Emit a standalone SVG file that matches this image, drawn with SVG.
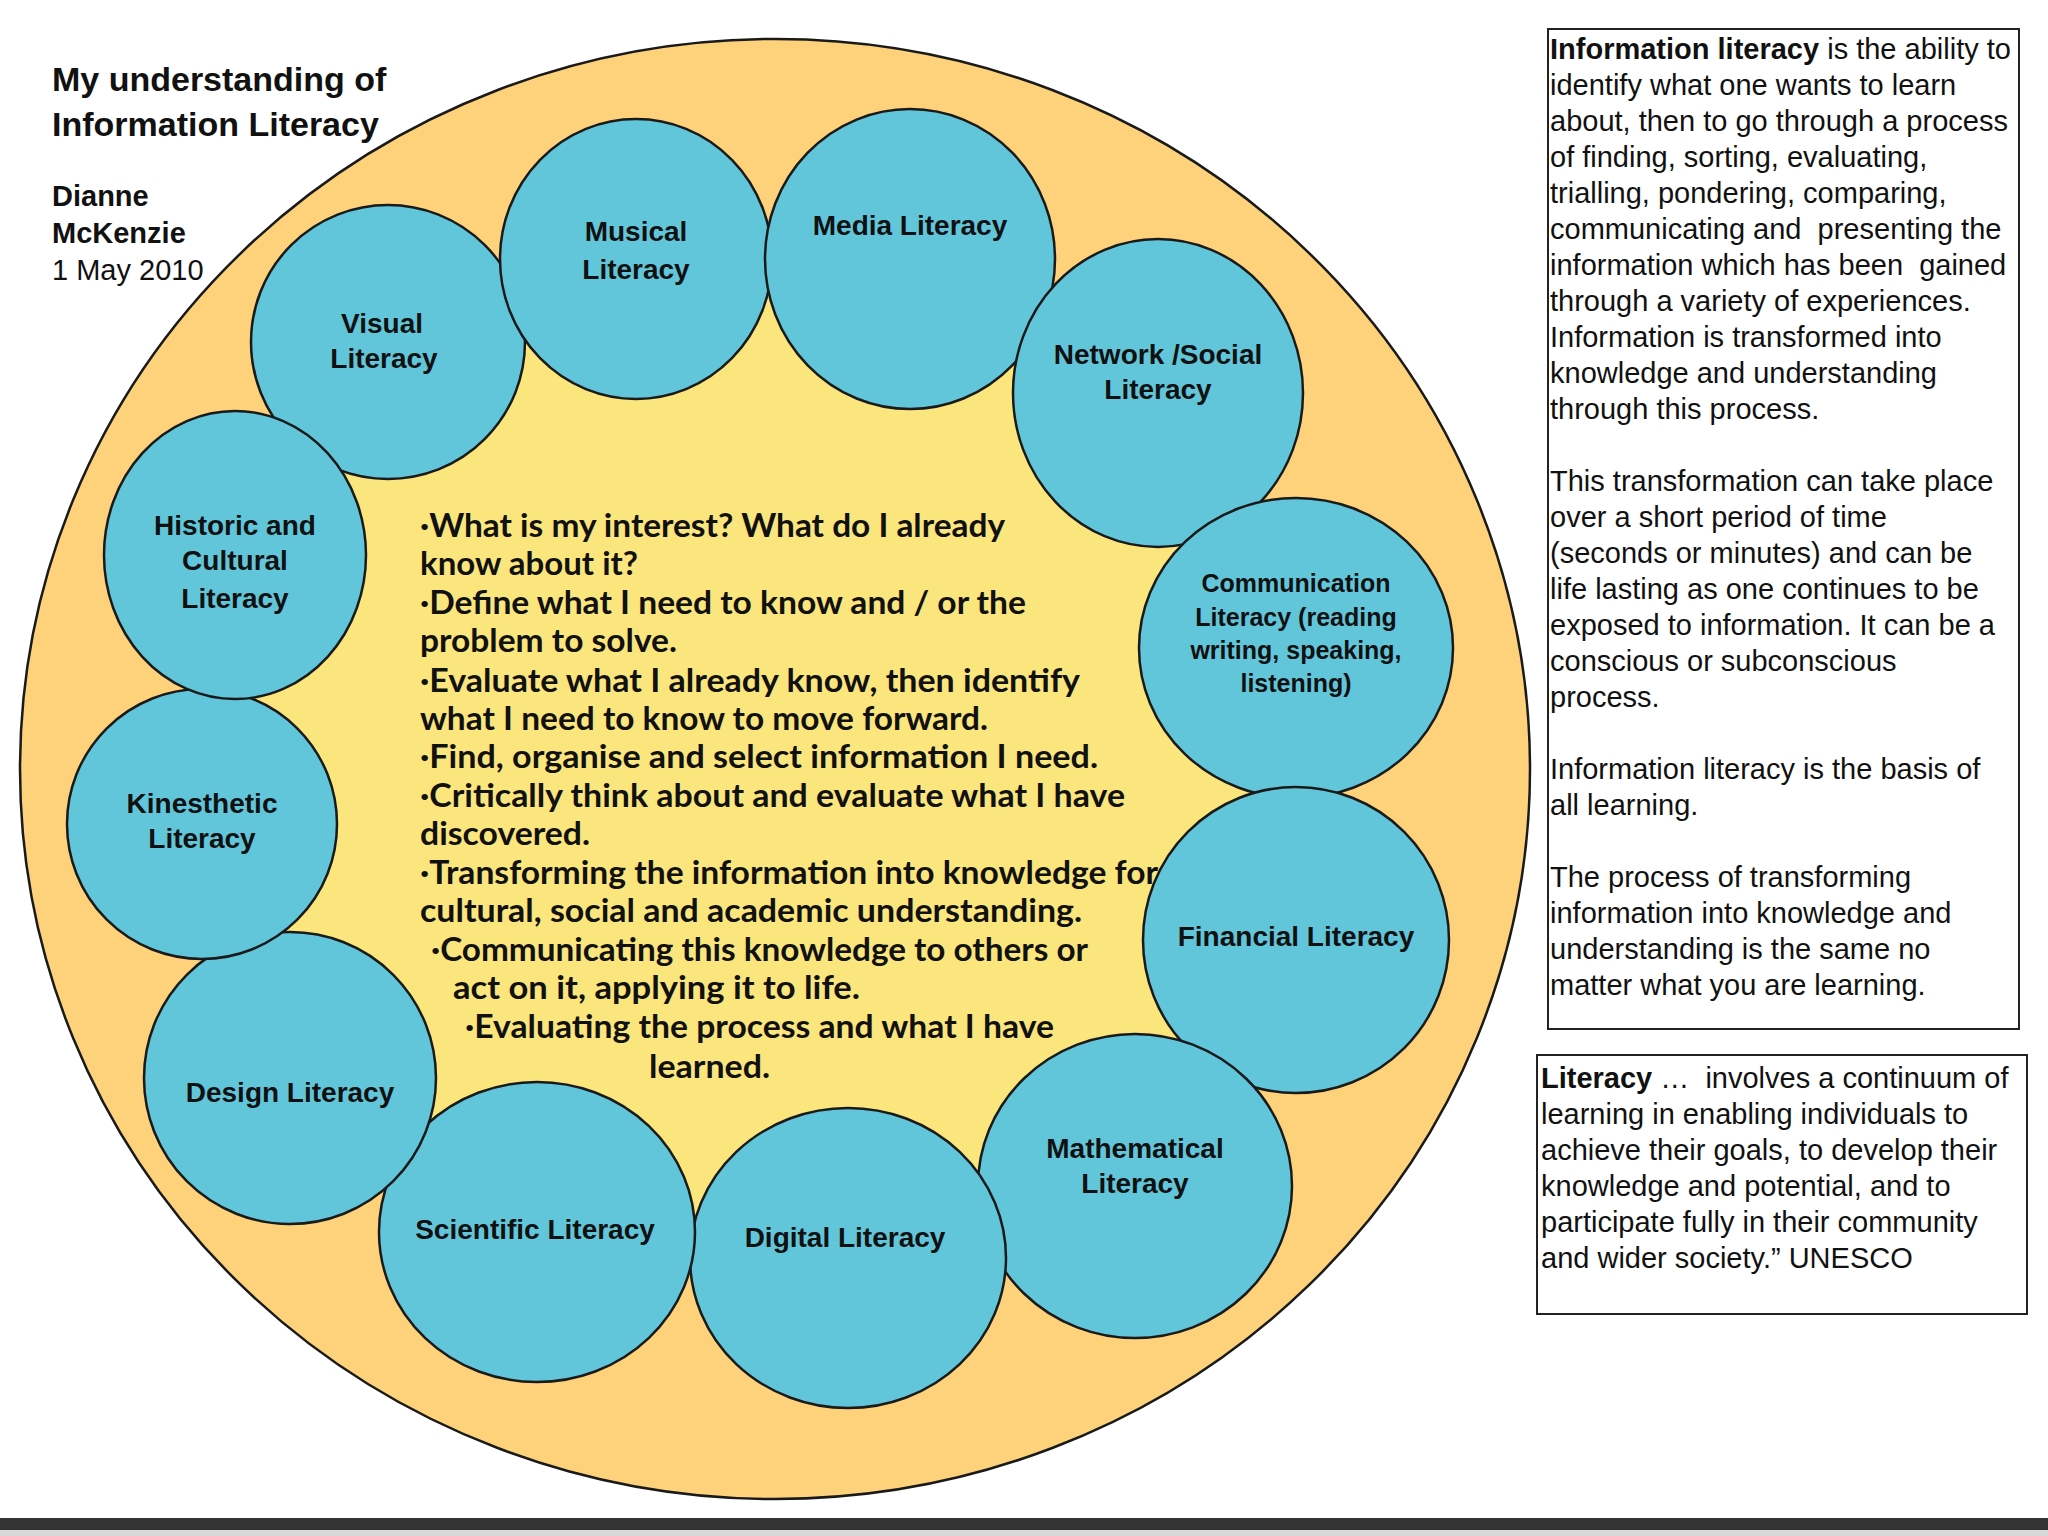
<svg xmlns="http://www.w3.org/2000/svg" width="2048" height="1536" viewBox="0 0 2048 1536">
<style>
.node{fill:#62C6DB;stroke:#1a1a1a;stroke-width:2.5}
.lbl{font-family:"Liberation Sans",Arial,sans-serif;font-weight:bold;font-size:28px;fill:#111;text-anchor:middle}
.lbls{font-family:"Liberation Sans",Arial,sans-serif;font-weight:bold;font-size:25px;fill:#111;text-anchor:middle}
.ctr{font-family:Lato,"Open Sans",sans-serif;font-weight:bold;font-size:32px;fill:#111}
.box{fill:#fff;stroke:#222;stroke-width:2}
.bt{font-family:"Liberation Sans",Arial,sans-serif;font-size:29px;fill:#111}
.hd{font-family:"Liberation Sans",Arial,sans-serif;font-weight:bold;fill:#111}
</style>
<rect width="2048" height="1536" fill="#fff"/>
<rect x="0" y="1518" width="2048" height="12" fill="#333"/>
<rect x="0" y="1530" width="2048" height="6" fill="#d8d8d8"/>

<g id="title">
<text class="hd" x="52" y="91" font-size="34">My understanding of</text>
<text class="hd" x="52" y="136" font-size="34">Information Literacy</text>
<text class="hd" x="52" y="206" font-size="29">Dianne</text>
<text class="hd" x="52" y="243" font-size="29">McKenzie</text>
<text class="bt" x="52" y="280">1 May 2010</text>
</g>

<g id="outer">
<ellipse cx="775" cy="769" rx="755" ry="730" fill="#FDD27A" stroke="#1a1a1a" stroke-width="2.5"/>
</g>

<g id="connectors">
<polygon points="388,342 636,259 910,259 1158,393 1296,648 1296,940 1135,1186 848,1258 537,1232 290,1078 202,824 235,555" fill="#FBE57D" stroke="#5a4a30" stroke-width="1.5"/>
</g>

<g id="center">
<text class="ctr" x="420" y="537" textLength="585" lengthAdjust="spacingAndGlyphs">·What is my interest? What do I already</text>
<text class="ctr" x="420" y="575" textLength="218" lengthAdjust="spacingAndGlyphs">know about it?</text>
<text class="ctr" x="420" y="614" textLength="606" lengthAdjust="spacingAndGlyphs">·Define what I need to know and / or the</text>
<text class="ctr" x="420" y="652" textLength="257" lengthAdjust="spacingAndGlyphs">problem to solve.</text>
<text class="ctr" x="420" y="692" textLength="660" lengthAdjust="spacingAndGlyphs">·Evaluate what I already know, then identify</text>
<text class="ctr" x="420" y="730" textLength="568" lengthAdjust="spacingAndGlyphs">what I need to know to move forward.</text>
<text class="ctr" x="420" y="768" textLength="678" lengthAdjust="spacingAndGlyphs">·Find, organise and select information I need.</text>
<text class="ctr" x="420" y="807" textLength="705" lengthAdjust="spacingAndGlyphs">·Critically think about and evaluate what I have</text>
<text class="ctr" x="420" y="845" textLength="170" lengthAdjust="spacingAndGlyphs">discovered.</text>
<text class="ctr" x="420" y="884" textLength="738" lengthAdjust="spacingAndGlyphs">·Transforming the information into knowledge for</text>
<text class="ctr" x="420" y="922" textLength="662" lengthAdjust="spacingAndGlyphs">cultural, social and academic understanding.</text>
<text class="ctr" x="431" y="961" textLength="657" lengthAdjust="spacingAndGlyphs">·Communicating this knowledge to others or</text>
<text class="ctr" x="453" y="999" textLength="407" lengthAdjust="spacingAndGlyphs">act on it, applying it to life.</text>
<text class="ctr" x="465" y="1038" textLength="589" lengthAdjust="spacingAndGlyphs">·Evaluating the process and what I have</text>
<text class="ctr" x="649" y="1078" textLength="121" lengthAdjust="spacingAndGlyphs">learned.</text>
</g>

<g id="visual"><ellipse class="node" cx="388" cy="342" rx="137" ry="137"/>
<text class="lbl" x="382" y="333">Visual</text><text class="lbl" x="384" y="368">Literacy</text></g>
<g id="musical"><ellipse class="node" cx="636" cy="259" rx="136" ry="140"/>
<text class="lbl" x="636" y="241">Musical</text><text class="lbl" x="636" y="279">Literacy</text></g>
<g id="media"><ellipse class="node" cx="910" cy="259" rx="145" ry="150"/>
<text class="lbl" x="910" y="235">Media Literacy</text></g>
<g id="network"><ellipse class="node" cx="1158" cy="393" rx="145" ry="154"/>
<text class="lbl" x="1158" y="364">Network /Social</text><text class="lbl" x="1158" y="399">Literacy</text></g>
<g id="communication"><ellipse class="node" cx="1296" cy="648" rx="157" ry="150"/>
<text class="lbls" x="1296" y="592">Communication</text><text class="lbls" x="1296" y="626">Literacy (reading</text>
<text class="lbls" x="1296" y="659">writing, speaking,</text><text class="lbls" x="1296" y="692">listening)</text></g>
<g id="financial"><ellipse class="node" cx="1296" cy="940" rx="153" ry="153"/>
<text class="lbl" x="1296" y="946">Financial Literacy</text></g>
<g id="mathematical"><ellipse class="node" cx="1135" cy="1186" rx="157" ry="152"/>
<text class="lbl" x="1135" y="1158">Mathematical</text><text class="lbl" x="1135" y="1193">Literacy</text></g>
<g id="digital"><ellipse class="node" cx="848" cy="1258" rx="158" ry="150"/>
<text class="lbl" x="845" y="1247">Digital Literacy</text></g>
<g id="scientific"><ellipse class="node" cx="537" cy="1232" rx="158" ry="150"/>
<text class="lbl" x="535" y="1239">Scientific Literacy</text></g>
<g id="design"><ellipse class="node" cx="290" cy="1078" rx="146" ry="146"/>
<text class="lbl" x="290" y="1102">Design Literacy</text></g>
<g id="kinesthetic"><ellipse class="node" cx="202" cy="824" rx="135" ry="135"/>
<text class="lbl" x="202" y="813">Kinesthetic</text><text class="lbl" x="202" y="848">Literacy</text></g>
<g id="historic"><ellipse class="node" cx="235" cy="555" rx="131" ry="144"/>
<text class="lbl" x="235" y="535">Historic and</text><text class="lbl" x="235" y="570">Cultural</text><text class="lbl" x="235" y="608">Literacy</text></g>

<g id="infobox">
<rect class="box" x="1548" y="29" width="471" height="1000"/>
<text class="bt" x="1550" y="59"><tspan font-weight="bold">Information literacy</tspan> is the ability to</text>
<text class="bt" x="1550" y="95">identify what one wants to learn</text>
<text class="bt" x="1550" y="131">about, then to go through a process</text>
<text class="bt" x="1550" y="167">of finding, sorting, evaluating,</text>
<text class="bt" x="1550" y="203">trialling, pondering, comparing,</text>
<text class="bt" x="1550" y="239" xml:space="preserve">communicating and  presenting the</text>
<text class="bt" x="1550" y="275" xml:space="preserve">information which has been  gained</text>
<text class="bt" x="1550" y="311">through a variety of experiences.</text>
<text class="bt" x="1550" y="347">Information is transformed into</text>
<text class="bt" x="1550" y="383">knowledge and understanding</text>
<text class="bt" x="1550" y="419">through this process.</text>
<text class="bt" x="1550" y="491">This transformation can take place</text>
<text class="bt" x="1550" y="527">over a short period of time</text>
<text class="bt" x="1550" y="563">(seconds or minutes) and can be</text>
<text class="bt" x="1550" y="599">life lasting as one continues to be</text>
<text class="bt" x="1550" y="635">exposed to information. It can be a</text>
<text class="bt" x="1550" y="671">conscious or subconscious</text>
<text class="bt" x="1550" y="707">process.</text>
<text class="bt" x="1550" y="779">Information literacy is the basis of</text>
<text class="bt" x="1550" y="815">all learning.</text>
<text class="bt" x="1550" y="887">The process of transforming</text>
<text class="bt" x="1550" y="923">information into knowledge and</text>
<text class="bt" x="1550" y="959">understanding is the same no</text>
<text class="bt" x="1550" y="995">matter what you are learning.</text>
</g>

<g id="unescobox">
<rect class="box" x="1537" y="1055" width="490" height="259"/>
<text class="bt" x="1541" y="1088" xml:space="preserve"><tspan font-weight="bold">Literacy</tspan> …  involves a continuum of</text>
<text class="bt" x="1541" y="1124">learning in enabling individuals to</text>
<text class="bt" x="1541" y="1160">achieve their goals, to develop their</text>
<text class="bt" x="1541" y="1196">knowledge and potential, and to</text>
<text class="bt" x="1541" y="1232">participate fully in their community</text>
<text class="bt" x="1541" y="1268">and wider society.” UNESCO</text>
</g>
</svg>
